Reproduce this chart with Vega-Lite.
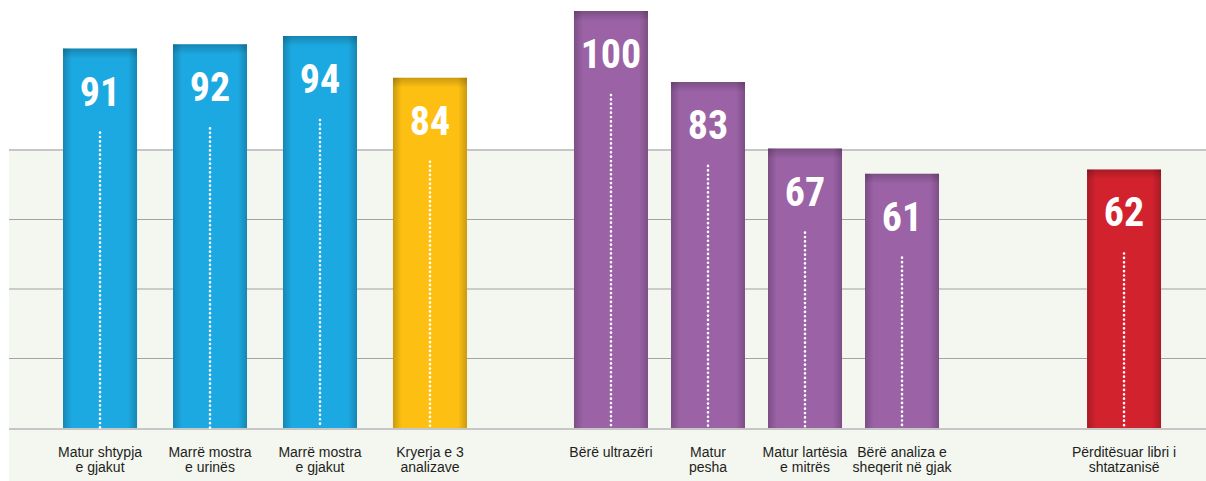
{
  "$schema": "https://vega.github.io/schema/vega-lite/v6.json",
  "background": "white",
  "padding": {"left": 8, "top": 11, "right": 0, "bottom": 0},
  "spacing": 0,
  "bounds": "flush",
  "config": {
    "view": {"stroke": null},
    "axisX": {
      "title": null, "domain": false, "ticks": false, "grid": false, "labelAngle": 0,
      "labelFont": "Liberation Sans", "labelFontSize": 14, "labelColor": "#231f20",
      "labelPadding": 17.5, "labelBaseline": "top", "labelLineHeight": 14.5, "labelLimit": 0,
      "labelExpr": "split(datum.label, '\\n')"
    }
  },
  "datasets": {
    "bars": [
      {"panel": 1, "cat": "Matur shtypja\ne gjakut", "value": 91, "grp": "a"},
      {"panel": 1, "cat": "Marrë mostra\ne urinës", "value": 92, "grp": "a"},
      {"panel": 1, "cat": "Marrë mostra\ne gjakut", "value": 94, "grp": "a"},
      {"panel": 1, "cat": "Kryerja e 3\nanalizave", "value": 84, "grp": "b"},
      {"panel": 2, "cat": "Bërë ultrazëri", "value": 100, "grp": "c"},
      {"panel": 2, "cat": "Matur\npesha", "value": 83, "grp": "c"},
      {"panel": 2, "cat": "Matur lartësia\ne mitrës", "value": 67, "grp": "c"},
      {"panel": 2, "cat": "Bërë analiza e\nsheqerit në gjak", "value": 61, "grp": "c"},
      {"panel": 3, "cat": "Përditësuar libri i\nshtatzanisë", "value": 62, "grp": "d"}
    ],
    "grid": [{"v": 16.667}, {"v": 33.333}, {"v": 50}]
  },
  "hconcat": [
    {
      "width": 512, "height": 417,
      "data": {"name": "bars"},
      "transform": [{"filter": "datum.panel == 1"}],
      "layer": [
        {"data": {"values": [{}]}, "mark": {"type": "rect", "fill": "#f4f6f0", "clip": false},
         "encoding": {"x": {"value": 0}, "x2": {"value": "width"}, "y": {"datum": 66.667, "type": "quantitative", "scale": {"domain": [0, 100], "nice": false}, "axis": null}, "y2": {"datum": -14}}},
        {"data": {"name": "grid"}, "mark": {"type": "rule", "stroke": "#a3a3a3", "strokeWidth": 1},
         "encoding": {"y": {"field": "v", "type": "quantitative"}}},
        {"data": {"values": [{}]}, "mark": {"type": "rule", "stroke": "#c6c6c6", "strokeWidth": 2},
         "encoding": {"y": {"datum": 66.667, "type": "quantitative"}}},
        {"mark": {"type": "bar"},
         "encoding": {
           "x": {"field": "cat", "type": "nominal", "sort": null, "scale": {"paddingInner": 0.327, "paddingOuter": 0.491}, "axis": {"zindex": 1}},
           "y": {"field": "value", "type": "quantitative"},
           "color": {"field": "grp", "type": "nominal", "scale": {"domain": ["a", "b", "c", "d"], "range": ["#1ca8e0", "#fdc012", "#9b62a6", "#d2222e"]}, "legend": null}}},
        {"mark": {"type": "bar", "fill": {"gradient": "linear", "x1": 0, "x2": 1, "y1": 0, "y2": 0, "stops": [{"offset": 0, "color": "rgba(0,0,0,0.2)"}, {"offset": 0.12, "color": "rgba(0,0,0,0)"}, {"offset": 0.88, "color": "rgba(0,0,0,0)"}, {"offset": 1, "color": "rgba(0,0,0,0.2)"}]}},
         "encoding": {"x": {"field": "cat", "type": "nominal", "sort": null}, "y": {"field": "value", "type": "quantitative"}}},
        {"mark": {"type": "bar", "y2Offset": 10, "fill": {"gradient": "linear", "x1": 0, "x2": 0, "y1": 0, "y2": 1, "stops": [{"offset": 0, "color": "rgba(0,0,0,0.2)"}, {"offset": 1, "color": "rgba(0,0,0,0)"}]}},
         "encoding": {"x": {"field": "cat", "type": "nominal", "sort": null}, "y": {"field": "value", "type": "quantitative"}, "y2": {"field": "value"}}},
        {"data": {"values": [{}]}, "mark": {"type": "rule", "stroke": "#c6c6c6", "strokeWidth": 2, "yOffset": 1},
         "encoding": {"y": {"datum": 0, "type": "quantitative"}}},
        {"mark": {"type": "rule", "stroke": "white", "strokeWidth": 2.6, "strokeCap": "round", "strokeDash": [0.1, 4.3], "yOffset": 84},
         "encoding": {"x": {"field": "cat", "type": "nominal", "sort": null}, "y": {"field": "value", "type": "quantitative"}, "y2": {"datum": 0}}},
        {"mark": {"type": "text", "fill": "white", "font": "Roboto Condensed, Liberation Sans Narrow, Noto Sans Condensed, DejaVu Sans Condensed, sans-serif", "fontWeight": "bold", "fontSize": 40, "baseline": "alphabetic", "dy": 57},
         "encoding": {"x": {"field": "cat", "type": "nominal", "sort": null}, "y": {"field": "value", "type": "quantitative"}, "text": {"field": "value", "type": "quantitative"}}}
      ]
    },
    {
      "width": 471, "height": 417,
      "data": {"name": "bars"},
      "transform": [{"filter": "datum.panel == 2"}],
      "layer": [
        {"data": {"values": [{}]}, "mark": {"type": "rect", "fill": "#f4f6f0", "clip": false},
         "encoding": {"x": {"value": 0}, "x2": {"value": "width"}, "y": {"datum": 66.667, "type": "quantitative", "scale": {"domain": [0, 100], "nice": false}, "axis": null}, "y2": {"datum": -14}}},
        {"data": {"name": "grid"}, "mark": {"type": "rule", "stroke": "#a3a3a3", "strokeWidth": 1},
         "encoding": {"y": {"field": "v", "type": "quantitative"}}},
        {"data": {"values": [{}]}, "mark": {"type": "rule", "stroke": "#c6c6c6", "strokeWidth": 2},
         "encoding": {"y": {"datum": 66.667, "type": "quantitative"}}},
        {"mark": {"type": "bar"},
         "encoding": {
           "x": {"field": "cat", "type": "nominal", "sort": null, "scale": {"paddingInner": 0.237, "paddingOuter": 0.546}, "axis": {"zindex": 1}},
           "y": {"field": "value", "type": "quantitative"},
           "color": {"field": "grp", "type": "nominal", "scale": {"domain": ["a", "b", "c", "d"], "range": ["#1ca8e0", "#fdc012", "#9b62a6", "#d2222e"]}, "legend": null}}},
        {"mark": {"type": "bar", "fill": {"gradient": "linear", "x1": 0, "x2": 1, "y1": 0, "y2": 0, "stops": [{"offset": 0, "color": "rgba(0,0,0,0.2)"}, {"offset": 0.12, "color": "rgba(0,0,0,0)"}, {"offset": 0.88, "color": "rgba(0,0,0,0)"}, {"offset": 1, "color": "rgba(0,0,0,0.2)"}]}},
         "encoding": {"x": {"field": "cat", "type": "nominal", "sort": null}, "y": {"field": "value", "type": "quantitative"}}},
        {"mark": {"type": "bar", "y2Offset": 10, "fill": {"gradient": "linear", "x1": 0, "x2": 0, "y1": 0, "y2": 1, "stops": [{"offset": 0, "color": "rgba(0,0,0,0.2)"}, {"offset": 1, "color": "rgba(0,0,0,0)"}]}},
         "encoding": {"x": {"field": "cat", "type": "nominal", "sort": null}, "y": {"field": "value", "type": "quantitative"}, "y2": {"field": "value"}}},
        {"data": {"values": [{}]}, "mark": {"type": "rule", "stroke": "#c6c6c6", "strokeWidth": 2, "yOffset": 1},
         "encoding": {"y": {"datum": 0, "type": "quantitative"}}},
        {"mark": {"type": "rule", "stroke": "white", "strokeWidth": 2.6, "strokeCap": "round", "strokeDash": [0.1, 4.3], "yOffset": 84},
         "encoding": {"x": {"field": "cat", "type": "nominal", "sort": null}, "y": {"field": "value", "type": "quantitative"}, "y2": {"datum": 0}}},
        {"mark": {"type": "text", "fill": "white", "font": "Roboto Condensed, Liberation Sans Narrow, Noto Sans Condensed, DejaVu Sans Condensed, sans-serif", "fontWeight": "bold", "fontSize": 40, "baseline": "alphabetic", "dy": 57},
         "encoding": {"x": {"field": "cat", "type": "nominal", "sort": null}, "y": {"field": "value", "type": "quantitative"}, "text": {"field": "value", "type": "quantitative"}}}
      ]
    },
    {
      "width": 215, "height": 417,
      "data": {"name": "bars"},
      "transform": [{"filter": "datum.panel == 3"}],
      "layer": [
        {"data": {"values": [{}]}, "mark": {"type": "rect", "fill": "#f4f6f0", "clip": false},
         "encoding": {"x": {"value": 0}, "x2": {"value": "width"}, "y": {"datum": 66.667, "type": "quantitative", "scale": {"domain": [0, 100], "nice": false}, "axis": null}, "y2": {"datum": -14}}},
        {"data": {"name": "grid"}, "mark": {"type": "rule", "stroke": "#a3a3a3", "strokeWidth": 1},
         "encoding": {"y": {"field": "v", "type": "quantitative"}}},
        {"data": {"values": [{}]}, "mark": {"type": "rule", "stroke": "#c6c6c6", "strokeWidth": 2},
         "encoding": {"y": {"datum": 66.667, "type": "quantitative"}}},
        {"mark": {"type": "bar"},
         "encoding": {
           "x": {"field": "cat", "type": "nominal", "sort": null, "scale": {"paddingInner": 0, "paddingOuter": 0.953, "align": 0.674}, "axis": {"zindex": 1}},
           "y": {"field": "value", "type": "quantitative"},
           "color": {"field": "grp", "type": "nominal", "scale": {"domain": ["a", "b", "c", "d"], "range": ["#1ca8e0", "#fdc012", "#9b62a6", "#d2222e"]}, "legend": null}}},
        {"mark": {"type": "bar", "fill": {"gradient": "linear", "x1": 0, "x2": 1, "y1": 0, "y2": 0, "stops": [{"offset": 0, "color": "rgba(0,0,0,0.2)"}, {"offset": 0.12, "color": "rgba(0,0,0,0)"}, {"offset": 0.88, "color": "rgba(0,0,0,0)"}, {"offset": 1, "color": "rgba(0,0,0,0.2)"}]}},
         "encoding": {"x": {"field": "cat", "type": "nominal", "sort": null}, "y": {"field": "value", "type": "quantitative"}}},
        {"mark": {"type": "bar", "y2Offset": 10, "fill": {"gradient": "linear", "x1": 0, "x2": 0, "y1": 0, "y2": 1, "stops": [{"offset": 0, "color": "rgba(0,0,0,0.2)"}, {"offset": 1, "color": "rgba(0,0,0,0)"}]}},
         "encoding": {"x": {"field": "cat", "type": "nominal", "sort": null}, "y": {"field": "value", "type": "quantitative"}, "y2": {"field": "value"}}},
        {"data": {"values": [{}]}, "mark": {"type": "rule", "stroke": "#c6c6c6", "strokeWidth": 2, "yOffset": 1},
         "encoding": {"y": {"datum": 0, "type": "quantitative"}}},
        {"mark": {"type": "rule", "stroke": "white", "strokeWidth": 2.6, "strokeCap": "round", "strokeDash": [0.1, 4.3], "yOffset": 84},
         "encoding": {"x": {"field": "cat", "type": "nominal", "sort": null}, "y": {"field": "value", "type": "quantitative"}, "y2": {"datum": 0}}},
        {"mark": {"type": "text", "fill": "white", "font": "Roboto Condensed, Liberation Sans Narrow, Noto Sans Condensed, DejaVu Sans Condensed, sans-serif", "fontWeight": "bold", "fontSize": 40, "baseline": "alphabetic", "dy": 57},
         "encoding": {"x": {"field": "cat", "type": "nominal", "sort": null}, "y": {"field": "value", "type": "quantitative"}, "text": {"field": "value", "type": "quantitative"}}}
      ]
    }
  ]
}
